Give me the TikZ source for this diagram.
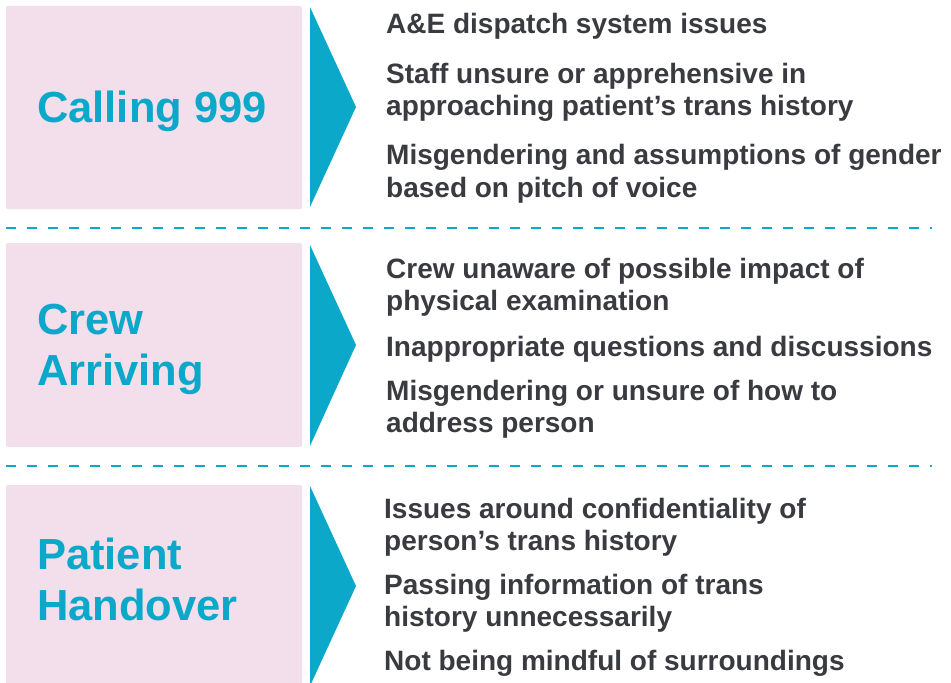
\documentclass[tikz,border=0pt]{standalone}
\usepackage{fontspec}
\setmainfont[Ligatures=NoCommon]{Liberation Sans}
\definecolor{cyanA}{RGB}{11,168,201}
\definecolor{pinkbox}{RGB}{242,223,235}
\definecolor{darktext}{RGB}{58,59,64}
\begin{document}
\begin{tikzpicture}[x=1bp,y=-1bp,
  stagebox/.style={fill=pinkbox, rounded corners=2bp},
  chevron/.style={fill=cyanA},
  heading/.style={anchor=base west, inner sep=0pt, font=\fontsize{43.5bp}{51bp}\selectfont\bfseries, text=cyanA, align=left},
  item/.style={anchor=base west, inner sep=0pt, font=\fontsize{28bp}{32bp}\selectfont\bfseries, text=darktext, align=left},
  sepline/.style={draw=cyanA, line width=2bp, dash pattern=on 10bp off 11bp}]
\useasboundingbox (0,0) rectangle (951,683);
\fill[white] (0,0) rectangle (951,683);
% stage boxes
\path[stagebox] (6,6) rectangle (302,209);
\path[stagebox] (6,243) rectangle (302,447);
\path[stagebox] (6,485) rectangle (302,692);
% chevrons
\path[chevron] (310,7) -- (356,107) -- (310,207) -- cycle;
\path[chevron] (310,245) -- (356,345) -- (310,446) -- cycle;
\path[chevron] (310,486) -- (356,586) -- (310,686) -- cycle;
% separators
\coordinate (s1a) at (6,228); \coordinate (s1b) at (932,228);
\coordinate (s2a) at (6,466); \coordinate (s2b) at (932,466);
\draw[sepline] (s1a) -- (s1b);
\draw[sepline] (s2a) -- (s2b);
% headings (anchor = baseline of last line)
\node[heading] (h1) at (37,123) {Calling 999};
\node[heading] (h2) at (37,385) {Crew\\Arriving};
\node[heading] (h3) at (37,620) {Patient\\Handover};
% items (anchor = baseline of last line)
\node[item] (i1a) at (386,33.5) {A\&E dispatch system issues};
\node[item] (i1b) at (386,115.5) {Staff unsure or apprehensive in\\approaching patient’s trans history};
\node[item] (i1c) at (386,197) {Misgendering and assumptions of gender\\based on pitch of voice};
\node[item] (i2a) at (386,310) {Crew unaware of possible impact of\\physical examination};
\node[item] (i2b) at (386,356) {Inappropriate questions and discussions};
\node[item] (i2c) at (386,432) {Misgendering or unsure of how to\\address person};
\node[item] (i3a) at (384,550) {Issues around confidentiality of\\person’s trans history};
\node[item] (i3b) at (384,626) {Passing information of trans\\history unnecessarily};
\node[item] (i3c) at (384,670) {Not being mindful of surroundings};
\end{tikzpicture}
\end{document}
